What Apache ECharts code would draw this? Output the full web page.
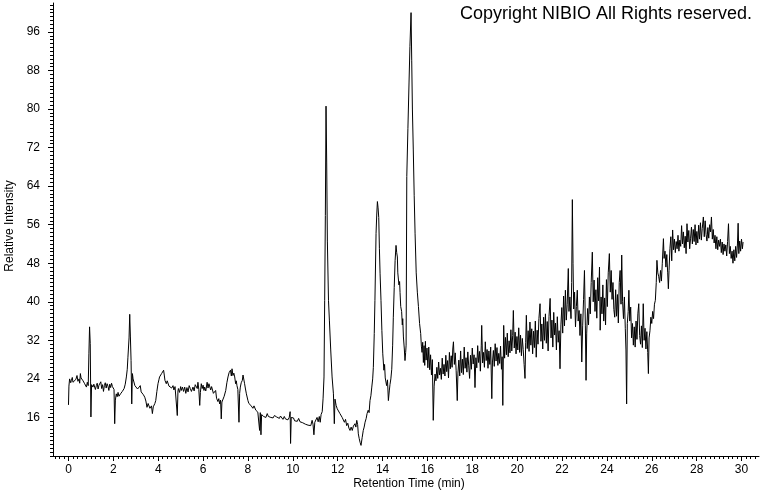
<!DOCTYPE html>
<html><head><meta charset="utf-8">
<script src="https://cdn.jsdelivr.net/npm/echarts@6/dist/echarts.min.js"></script>
<style>html,body{margin:0;padding:0;background:#fff}#c{width:760px;height:492px}</style>
</head><body><div id="c"></div><script>
// Retention time (min), relative intensity
const segA = [[0.00,18.6],[0.02,22.5],[0.05,24.0],[0.10,23.2],[0.13,23.7],[0.17,24.3],[0.20,23.3],[0.24,22.9],[0.28,23.7],[0.33,23.9],[0.38,24.7],[0.42,23.5],[0.47,24.0],[0.50,23.1],[0.53,25.1],[0.56,24.2],[0.59,24.0],[0.62,24.5],[0.65,23.6],[0.68,23.3],[0.72,23.0],[0.76,22.8],[0.80,22.3],[0.84,23.3],[0.88,22.6],[0.91,29.2],[0.94,34.8],[0.97,31.3],[1.00,16.1],[1.03,22.8],[1.05,23.0],[1.09,22.3],[1.13,22.9],[1.17,23.0],[1.20,21.8],[1.24,22.6],[1.28,23.1],[1.32,21.9],[1.36,22.7],[1.40,22.4],[1.44,23.4],[1.48,22.0],[1.52,22.8],[1.56,21.4],[1.60,22.6],[1.64,23.2],[1.68,22.1],[1.72,23.0],[1.76,22.5],[1.80,21.6],[1.84,22.9],[1.88,22.2],[1.92,23.1],[1.96,22.4],[2.00,22.8],[2.03,21.8],[2.06,14.7],[2.09,19.6],[2.13,20.9],[2.17,20.3],[2.21,21.2],[2.25,20.4],[2.28,20.2],[2.32,20.9],[2.36,20.6],[2.40,21.4],[2.43,21.6],[2.48,22.0],[2.53,22.9],[2.58,24.4],[2.62,26.0],[2.65,28.5],[2.70,32.5],[2.73,37.4],[2.76,32.7],[2.79,27.8],[2.82,18.8],[2.85,25.1],[2.88,24.0],[2.91,23.7],[2.96,22.6],[3.02,22.3],[3.08,21.9],[3.14,21.6],[3.20,22.6],[3.24,21.3],[3.29,21.3],[3.34,20.7],[3.40,20.2],[3.45,19.4],[3.50,18.1],[3.55,18.9],[3.59,18.5],[3.63,17.9],[3.66,17.8],[3.70,18.4],[3.74,16.8],[3.78,18.2],[3.81,17.8],[3.85,18.9],[3.89,19.5],[3.94,21.4],[3.99,23.0],[4.03,23.8],[4.06,24.4],[4.10,24.2],[4.15,25.1],[4.20,24.9],[4.24,25.8],[4.27,24.8],[4.30,23.7],[4.36,23.0],[4.40,23.6],[4.44,23.3],[4.48,22.5],[4.51,22.3],[4.56,22.9],[4.60,22.1],[4.66,22.6],[4.70,21.7],[4.75,22.4],[4.81,22.0],[4.85,16.4],[4.88,21.5],[4.90,22.0],[4.95,21.2],[5.00,22.4],[5.03,21.6],[5.08,22.3],[5.13,21.4],[5.18,22.3],[5.23,21.0],[5.28,22.2],[5.33,21.3],[5.38,22.6],[5.43,22.0],[5.48,21.4],[5.55,22.3],[5.60,21.5],[5.65,22.8],[5.70,22.6],[5.74,22.0],[5.77,23.3],[5.81,21.8],[5.85,18.5],[5.88,21.2],[5.92,23.0],[5.96,22.0],[6.00,22.7],[6.04,21.6],[6.07,22.3],[6.12,21.5],[6.18,23.3],[6.22,22.1],[6.26,23.0],[6.29,22.6],[6.34,21.7],[6.38,22.4],[6.41,22.0],[6.46,21.0],[6.52,20.9],[6.56,21.6],[6.60,20.0],[6.62,20.2],[6.66,19.3],[6.70,19.9],[6.74,18.8],[6.78,19.6],[6.81,15.7],[6.84,19.2],[6.89,19.5],[6.94,20.4],[7.01,21.6],[7.06,23.2],[7.11,24.4],[7.16,25.3],[7.22,25.8],[7.26,24.6],[7.29,26.1],[7.33,24.7],[7.37,25.2],[7.41,24.4],[7.45,23.0],[7.48,23.6],[7.51,22.6],[7.55,21.8],[7.60,15.0],[7.63,21.0],[7.66,22.3],[7.70,23.2],[7.75,23.7],[7.78,24.8],[7.81,24.5],[7.85,23.0],[7.89,21.9],[7.93,20.9],[7.97,20.5],[8.00,19.5]];
const segB = [[8.04,18.9],[8.09,19.3],[8.13,18.5],[8.18,18.9],[8.22,17.9],[8.27,18.4],[8.31,18.0],[8.35,17.5],[8.40,17.8],[8.44,17.1],[8.48,17.4],[8.52,13.3],[8.55,17.0],[8.58,12.4],[8.61,16.6],[8.65,16.8],[8.70,16.2],[8.76,16.6],[8.80,16.0],[8.86,16.8],[8.91,16.2],[8.96,16.5],[9.02,16.0],[9.07,16.4],[9.12,15.9],[9.18,16.4],[9.23,16.8],[9.28,16.1],[9.34,16.5],[9.40,15.8],[9.45,16.3],[9.50,16.0],[9.56,15.6],[9.62,16.2],[9.67,15.7],[9.72,16.0],[9.78,15.5],[9.84,16.0],[9.88,17.2],[9.90,10.6],[9.93,16.0],[9.98,15.6],[10.03,15.9],[10.08,15.3],[10.14,15.7],[10.20,15.2],[10.26,15.8],[10.32,15.1],[10.38,15.5],[10.44,14.9],[10.50,15.3],[10.56,14.6],[10.62,15.0],[10.68,14.4],[10.74,14.8],[10.80,14.3],[10.86,15.4],[10.90,14.6],[10.94,12.4],[10.98,15.0],[11.03,14.7],[11.08,16.0],[11.13,15.1],[11.18,16.2],[11.22,15.0],[11.26,16.6],[11.31,17.2],[11.35,20.0],[11.39,24.4],[11.42,40.3],[11.45,57.9],[11.48,80.6],[11.51,68.8],[11.54,52.6],[11.59,40.3],[11.63,36.2],[11.69,30.0],[11.75,24.4],[11.81,20.9],[11.85,14.7],[11.88,19.8],[11.93,18.5],[11.98,17.8],[12.03,18.2],[12.10,16.8],[12.15,17.2],[12.20,16.0],[12.25,15.7],[12.30,15.0],[12.35,15.6],[12.40,14.3],[12.45,14.8],[12.50,13.8],[12.55,13.3],[12.60,14.0],[12.65,13.3],[12.70,14.2],[12.77,14.7],[12.81,14.0],[12.85,15.4],[12.89,14.5],[12.92,12.6],[12.96,11.6],[13.00,10.8],[13.04,10.2],[13.09,11.8],[13.14,13.3],[13.18,14.0],[13.22,15.0],[13.27,15.8],[13.31,16.8],[13.36,17.5],[13.40,17.0],[13.44,19.5],[13.48,20.5],[13.52,22.3],[13.56,24.0],[13.59,26.4],[13.63,33.4],[13.66,40.3],[13.71,54.2],[13.74,58.0],[13.77,60.8],[13.80,59.5],[13.83,57.5],[13.86,51.0],[13.89,45.8],[13.93,40.3],[13.97,34.0],[14.01,29.2],[14.06,25.8],[14.09,27.0],[14.12,24.2],[14.15,24.5],[14.18,22.6],[14.22,23.8],[14.26,19.5],[14.30,21.5],[14.33,22.8],[14.37,24.0],[14.41,26.0],[14.45,31.0],[14.48,36.8],[14.52,43.0],[14.56,48.6],[14.60,51.7],[14.63,50.2],[14.66,49.3],[14.68,46.0],[14.70,45.8],[14.73,43.5],[14.76,44.2],[14.78,41.9],[14.81,39.0],[14.85,38.0],[14.88,35.2],[14.90,36.5],[14.93,32.7],[14.97,30.2],[15.00,27.8],[15.03,29.5],[15.05,31.0],[15.08,66.0],[15.13,76.0],[15.18,85.4],[15.22,93.0],[15.27,100.0],[15.30,90.0],[15.33,80.0],[15.37,71.5],[15.41,62.0],[15.45,54.1],[15.50,46.0],[15.55,42.0],[15.60,39.0],[15.65,35.5],[15.70,33.4],[15.73,30.8],[15.76,29.5],[15.79,31.6],[15.82,27.4],[15.85,30.9],[15.88,26.8],[15.91,31.8],[15.94,27.9],[15.98,30.4],[16.02,26.3],[16.06,30.6],[16.10,25.9],[16.14,29.0],[16.18,24.8],[16.22,28.0],[16.26,15.4]];
const segC = [[16.30,22.5],[16.34,25.0],[16.38,23.6],[16.42,26.4],[16.46,24.1],[16.50,27.5],[16.54,24.8],[16.58,26.2],[16.62,23.9],[16.66,28.3],[16.70,25.0],[16.74,27.0],[16.78,24.6],[16.82,28.9],[16.86,25.5],[16.90,27.8],[16.94,24.2],[16.98,29.5],[17.02,26.1],[17.06,28.8],[17.10,26.4],[17.13,30.2],[17.16,31.7],[17.20,27.0],[17.24,29.4],[17.28,25.8],[17.33,19.5],[17.36,25.2],[17.40,27.9],[17.44,24.6],[17.48,29.8],[17.52,25.3],[17.56,28.1],[17.60,24.9],[17.64,30.6],[17.68,26.2],[17.72,28.4],[17.76,25.4],[17.80,29.6],[17.84,26.7],[17.88,24.1],[17.92,28.9],[17.96,26.0],[18.00,30.4],[18.04,27.1],[18.08,29.0],[18.12,22.2],[18.16,28.4],[18.20,26.3],[18.24,30.9],[18.28,27.4],[18.32,29.7],[18.36,25.6],[18.40,31.0],[18.42,35.1],[18.46,27.3],[18.50,29.5],[18.54,26.4],[18.58,31.7],[18.62,27.8],[18.66,30.1],[18.70,26.2],[18.74,29.8],[18.78,27.0],[18.82,30.6],[18.87,19.9],[18.90,27.5],[18.94,29.9],[18.98,26.6],[19.02,31.3],[19.06,27.7],[19.10,30.5],[19.14,26.8],[19.18,29.3],[19.22,27.2],[19.26,30.8],[19.30,26.0],[19.33,28.6],[19.36,18.5],[19.40,35.1],[19.44,28.3],[19.48,32.6],[19.52,29.0],[19.56,33.5],[19.60,28.6],[19.64,31.9],[19.68,29.4],[19.72,34.2],[19.76,29.8],[19.80,33.0],[19.83,38.2],[19.87,30.4],[19.91,33.7],[19.95,29.2],[19.99,32.8],[20.03,30.0],[20.07,34.6],[20.11,29.5],[20.15,33.1],[20.19,28.8],[20.23,32.4],[20.27,30.1],[20.31,27.0],[20.35,24.1],[20.38,31.5],[20.41,37.2],[20.45,30.3],[20.49,34.0],[20.53,29.7],[20.57,35.8],[20.61,31.0],[20.65,34.4],[20.69,29.2],[20.73,33.9],[20.77,30.5],[20.81,36.0],[20.85,28.5],[20.89,34.1],[20.93,31.2],[20.97,36.5],[21.02,39.6],[21.06,31.8],[21.10,35.4],[21.14,30.2],[21.18,36.8],[21.22,32.0],[21.26,37.5],[21.30,31.4],[21.34,35.9],[21.38,29.8],[21.42,37.0],[21.47,40.7],[21.51,32.5],[21.55,36.2],[21.59,30.6],[21.63,37.8],[21.67,33.1],[21.71,35.6],[21.75,30.0],[21.79,36.9],[21.83,31.6],[21.87,34.0],[21.91,26.1],[21.95,35.2],[21.99,38.8],[22.03,33.5],[22.07,41.2],[22.11,35.0],[22.15,42.4],[22.19,36.2],[22.23,39.5],[22.28,46.9],[22.31,38.0],[22.35,41.0],[22.40,36.5],[22.43,44.0],[22.46,61.2],[22.49,48.0],[22.52,38.5],[22.56,42.0],[22.60,34.8],[22.64,39.0],[22.68,42.4],[22.72,36.0],[22.76,38.2],[22.80,33.0],[22.84,37.5],[22.88,27.5],[22.92,35.0],[22.96,40.5],[23.00,46.5],[23.04,35.0],[23.07,23.7],[23.10,33.5],[23.14,38.6],[23.18,35.2],[23.22,41.0],[23.26,37.5],[23.30,44.0],[23.35,50.3],[23.39,40.0],[23.43,44.5],[23.47,38.0]];
const segD = [[23.51,42.5],[23.55,36.6],[23.59,45.0],[23.63,40.2],[23.67,47.2],[23.70,34.1],[23.74,41.0],[23.78,37.5],[23.82,43.5],[23.86,36.0],[23.90,40.8],[23.94,35.2],[23.98,44.6],[24.02,39.0],[24.06,46.0],[24.11,50.0],[24.15,42.0],[24.19,46.5],[24.23,40.5],[24.27,44.0],[24.31,38.4],[24.35,36.8],[24.39,42.5],[24.43,37.0],[24.47,41.5],[24.51,35.6],[24.55,44.0],[24.59,46.5],[24.63,39.5],[24.66,49.7],[24.70,40.0],[24.74,36.5],[24.78,41.0],[24.82,34.5],[24.85,30.0],[24.88,18.8],[24.91,35.5],[24.95,38.0],[24.98,42.4],[25.02,36.0],[25.06,38.9],[25.10,32.5],[25.14,35.5],[25.18,31.0],[25.22,34.8],[25.26,30.6],[25.30,36.0],[25.34,32.2],[25.38,37.5],[25.42,39.6],[25.46,33.0],[25.50,31.2],[25.54,35.0],[25.58,30.5],[25.62,39.6],[25.66,32.0],[25.70,34.5],[25.74,30.2],[25.78,33.8],[25.82,29.5],[25.85,25.1],[25.88,32.5],[25.92,34.0],[25.96,36.8],[26.00,35.5],[26.04,38.0],[26.08,36.5],[26.12,39.5],[26.16,40.3],[26.20,44.0],[26.23,48.6],[26.27,46.0],[26.31,45.2],[26.35,44.0],[26.39,46.5],[26.43,44.3],[26.47,48.0],[26.52,53.1],[26.55,49.0],[26.59,50.5],[26.63,47.2],[26.67,49.8],[26.71,46.0],[26.74,42.7],[26.77,46.5],[26.81,51.0],[26.85,53.5],[26.89,48.5],[26.93,54.9],[26.97,50.8],[27.01,53.0],[27.05,50.2],[27.09,52.5],[27.13,51.0],[27.17,53.8],[27.21,50.5],[27.25,52.8],[27.29,51.5],[27.33,55.8],[27.37,52.0],[27.41,54.5],[27.45,51.2],[27.49,53.6],[27.53,50.0],[27.57,56.2],[27.61,52.4],[27.65,54.8],[27.69,51.0],[27.73,53.2],[27.77,55.5],[27.81,52.0],[27.85,55.0],[27.89,52.5],[27.93,56.0],[27.97,51.8],[28.01,54.6],[28.05,52.2],[28.09,55.9],[28.13,53.0],[28.17,56.4],[28.21,52.8],[28.25,55.2],[28.30,57.6],[28.34,53.5],[28.38,56.8],[28.42,54.0],[28.46,52.6],[28.50,55.4],[28.54,53.2],[28.58,56.0],[28.62,54.5],[28.66,57.6],[28.70,53.0],[28.74,55.0],[28.78,52.2],[28.82,53.8],[28.86,51.0],[28.90,53.5],[28.94,50.8],[28.98,52.8],[29.02,51.5],[29.06,53.0],[29.10,50.2],[29.14,52.4],[29.18,49.8],[29.22,52.0],[29.26,50.5],[29.30,51.8],[29.34,49.5],[29.38,52.5],[29.42,56.2],[29.46,50.0],[29.50,51.5],[29.54,49.0],[29.58,50.5],[29.62,48.0],[29.66,50.8],[29.70,48.5],[29.74,51.5],[29.78,49.2],[29.82,52.0],[29.85,56.3],[29.88,50.0],[29.92,52.6],[29.96,50.5],[30.00,53.0],[30.04,51.0],[30.07,52.4]];

const xMajorTicks = [0,2,4,6,8,10,12,14,16,18,20,22,24,26,28,30];
const yMajorTicks = [16,24,32,40,48,56,64,72,80,88,96];
const xTitle = 'Retention Time (min)';
const yTitle = 'Relative Intensity';
const copyrightText = 'Copyright NIBIO All Rights reserved.';

const xMinorTicks = []; for (let i = -3; i <= 153; i++) xMinorTicks.push(Math.round(i * 2) / 10);
const yMinorTicks = []; for (let i = 10; i <= 127; i++) yMinorTicks.push(Math.round(i * 8) / 10);

const FONT = '"Liberation Sans", Arial, sans-serif';
const X_MIN = -0.69, X_MAX = 30.78, Y_MIN = 8, Y_MAX = 102;
const black = '#000';

const chart = echarts.init(document.getElementById('c'), null, {renderer: 'canvas'});
chart.setOption({
  animation: false,
  backgroundColor: '#fff',
  grid: {left: 53, right: 1, top: 3, bottom: 36, containLabel: false, outerBoundsMode: 'none'},
  xAxis: [
    {type: 'value', min: X_MIN, max: X_MAX, position: 'bottom',
     axisLine: {show: true, onZero: false, lineStyle: {color: black, width: 1}},
     axisTick: {show: true, customValues: xMajorTicks, length: 5, lineStyle: {color: black}},
     axisLabel: {show: true, customValues: xMajorTicks, color: black, fontFamily: FONT, fontSize: 12, margin: 8},
     splitLine: {show: false}},
    {type: 'value', min: X_MIN, max: X_MAX, position: 'bottom', offset: 0,
     axisLine: {show: false, onZero: false},
     axisTick: {show: true, customValues: xMinorTicks, length: 3, lineStyle: {color: black}},
     axisLabel: {show: false},
     splitLine: {show: false}}
  ],
  yAxis: [
    {type: 'value', min: Y_MIN, max: Y_MAX, position: 'left',
     axisLine: {show: true, onZero: false, lineStyle: {color: black, width: 1}},
     axisTick: {show: true, customValues: yMajorTicks, length: 5, lineStyle: {color: black}},
     axisLabel: {show: true, customValues: yMajorTicks, color: black, fontFamily: FONT, fontSize: 12, margin: 13},
     splitLine: {show: false}},
    {type: 'value', min: Y_MIN, max: Y_MAX, position: 'left', offset: 0,
     axisLine: {show: false, onZero: false},
     axisTick: {show: true, customValues: yMinorTicks, length: 3, lineStyle: {color: black}},
     axisLabel: {show: false},
     splitLine: {show: false}}
  ],
  graphic: [
    {type: 'text', x: 10, y: 226, rotation: Math.PI / 2,
     style: {text: yTitle, fill: black, font: '12px ' + FONT, align: 'center', verticalAlign: 'middle'}},
    {type: 'text', x: 409, y: 484,
     style: {text: xTitle, fill: black, font: '12px ' + FONT, align: 'center', verticalAlign: 'middle'}},
    {type: 'text', x: 752, y: 14,
     style: {text: copyrightText, fill: black, font: '18px ' + FONT, align: 'right', verticalAlign: 'middle'}}
  ],
  series: [{
    type: 'line', xAxisIndex: 0, yAxisIndex: 0,
    data: segA.concat(segB, segC, segD),
    showSymbol: false, symbol: 'none', sampling: null, smooth: false,
    lineStyle: {color: black, width: 1},
    emphasis: {disabled: true}
  }]
});
</script></body></html>
